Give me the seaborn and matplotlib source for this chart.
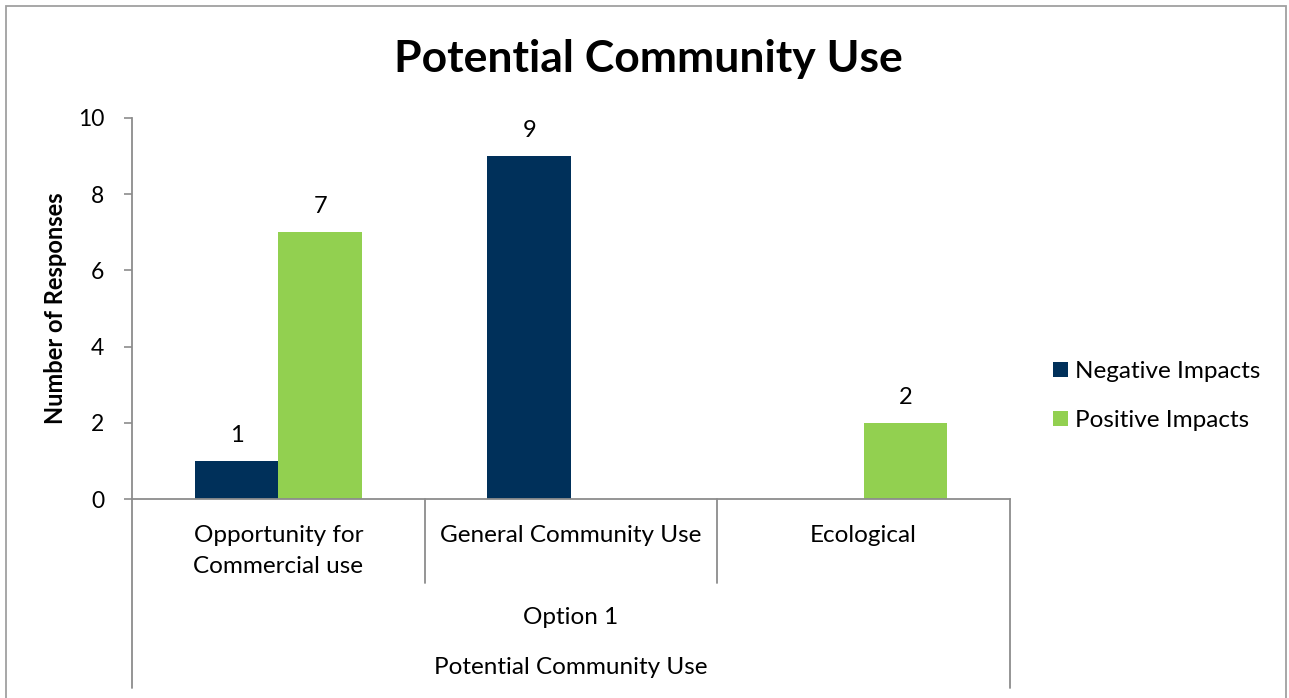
import matplotlib
matplotlib.use("Agg")
import matplotlib.pyplot as plt
import matplotlib.patches as mpatches
import seaborn as sns
import pandas as pd

# Chart content
categories = ["Opportunity for\nCommercial use", "General Community Use", "Ecological"]
series = ["Negative Impacts", "Positive Impacts"]
negative_values = [1, 9, 0]
positive_values = [7, 0, 2]
group_label = "Option 1"
outer_label = "Potential Community Use"
title = "Potential Community Use"
y_label = "Number of Responses"
y_ticks = [0, 2, 4, 6, 8, 10]

colors = ["#00305A", "#92D050"]
axis_gray = "#8C8C8C"

sns.set_theme(style="white")
plt.rcParams["font.family"] = ["Lato", "DejaVu Sans"]
plt.rcParams["text.color"] = "black"
plt.rcParams["axes.labelcolor"] = "black"
plt.rcParams["xtick.color"] = "black"
plt.rcParams["ytick.color"] = "black"

df = pd.DataFrame({
    "category": categories * 2,
    "series": [series[0]] * 3 + [series[1]] * 3,
    "value": negative_values + positive_values,
})

W, H = 1289, 698
fig = plt.figure(figsize=(W / 100, H / 100), dpi=100)
ax = fig.add_axes([132 / W, 1 - 499 / H, (1010 - 132) / W, (499 - 118) / H])

sns.barplot(data=df, x="category", y="value", hue="series", hue_order=series,
            order=categories, palette=colors, width=2 / 3.5, saturation=1,
            linewidth=0, ax=ax, legend=True)

ax.set_xlim(-0.5, 2.5)
ax.set_ylim(0, 10)
ax.set_yticks(y_ticks)
ax.tick_params(axis="y", which="major", direction="out", length=6, width=1.2,
               color=axis_gray, labelsize=16.5, labelcolor="black", pad=14,
               left=True)
ax.tick_params(axis="x", length=0, labelbottom=False)
ax.set_xlabel("")
ax.set_ylabel(y_label, fontsize=17, fontweight="bold")
ax.yaxis.set_label_coords(-0.0735, 0.5)

for side in ["top", "right"]:
    ax.spines[side].set_visible(False)
for side in ["left", "bottom"]:
    ax.spines[side].set_color(axis_gray)
    ax.spines[side].set_linewidth(1.3)

# Value labels (zero values are left blank)
for cont in ax.containers:
    labels = [f"{b.get_height():.0f}" if b.get_height() > 0 else "" for b in cont]
    ax.bar_label(cont, labels=labels, padding=11, fontsize=17)

# Multi-level category axis
xt = ax.get_xaxis_transform()
axis_h = 499 - 118
def fy(px):
    return (499 - px) / axis_h

for i, cat in enumerate(categories):
    ax.text(i, fy(525), cat, transform=xt, ha="center", va="top",
            fontsize=17.5, multialignment="center", linespacing=1.6)
ax.text(1, fy(617), group_label, transform=xt, ha="center", va="center", fontsize=17.5)
ax.text(1, fy(668), outer_label, transform=xt, ha="center", va="center", fontsize=17.5)

for xb in [0.5, 1.5]:
    ax.plot([xb, xb], [0, fy(583)], transform=xt, color=axis_gray, lw=1.3,
            clip_on=False)
for xb in [-0.5, 2.5]:
    ax.plot([xb, xb], [0, fy(688)], transform=xt, color=axis_gray, lw=1.3,
            clip_on=False)

# Legend
handles = [mpatches.Patch(facecolor=c, edgecolor="none") for c in colors]
ax.legend(handles, series, loc="center left", bbox_to_anchor=(1031 / W, 1 - 396 / H),
          bbox_transform=fig.transFigure, frameon=False, fontsize=17.5,
          handlelength=0.62, handleheight=0.62, handletextpad=0.3,
          labelspacing=1.15)

fig.suptitle(title, x=648 / W, y=1 - 59 / H, va="center", fontsize=32,
             fontweight="bold")

# Chart-area border
fig.add_artist(mpatches.Rectangle((6 / W, -0.02), (1286 - 6) / W, 1.02 - 6 / H,
                                  transform=fig.transFigure, fill=False,
                                  edgecolor="#A0A0A0", lw=1.3))

fig.savefig("out.png", dpi=100)
